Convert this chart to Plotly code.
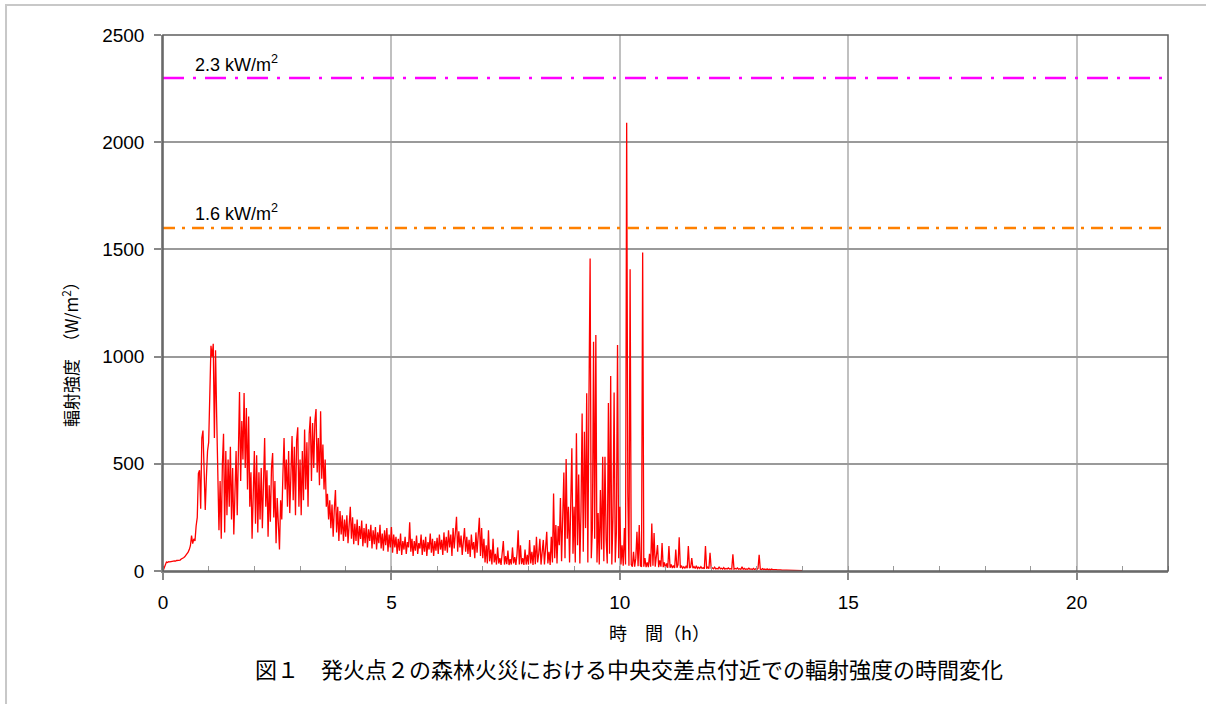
import plotly.graph_objects as go

# ---- data: radiation intensity (W/m2), sampled every 0.025 h, one list per hour ----
h00 = [0, 15, 30, 42, 40, 44, 43, 45, 44, 46, 47, 46, 49, 50, 52, 51, 56, 58, 62, 66,
       72, 78, 88, 100, 118, 165, 128, 150, 140, 210, 250, 455, 470, 290, 620, 655, 430, 285, 440, 560]
h01 = [600, 830, 1050, 1000, 1060, 620, 1030, 720, 480, 190, 420, 150, 500, 640, 180, 560, 260, 520, 300, 580,
       240, 480, 170, 420, 560, 260, 600, 835, 420, 700, 520, 830, 480, 760, 380, 720, 300, 460, 150, 380]
h02 = [560, 220, 540, 180, 460, 240, 480, 200, 440, 620, 300, 470, 160, 400, 230, 480, 550, 250, 420, 130,
       340, 210, 100, 330, 240, 450, 620, 380, 520, 300, 560, 270, 500, 630, 330, 580, 260, 610, 670, 300]
h03 = [520, 260, 560, 330, 660, 380, 600, 300, 640, 720, 420, 690, 480, 700, 755, 460, 620, 400, 745, 430,
       590, 380, 520, 300, 360, 240, 330, 200, 310, 160, 290, 378, 180, 300, 140, 280, 170, 260, 140, 240]
h04 = [160, 260, 130, 230, 300, 150, 250, 125, 220, 140, 240, 120, 210, 150, 235, 115, 200, 130, 220, 110,
       195, 140, 215, 105, 190, 125, 205, 100, 180, 130, 215, 105, 175, 95, 190, 120, 200, 90, 170, 110]
h05 = [205, 85, 170, 110, 160, 80, 150, 95, 175, 75, 140, 100, 160, 80, 135, 110, 227, 90, 150, 70,
       140, 95, 165, 80, 130, 105, 170, 75, 145, 90, 160, 70, 135, 100, 175, 85, 150, 70, 140, 95]
h06 = [155, 80, 170, 100, 145, 75, 180, 95, 160, 85, 190, 110, 170, 70, 200, 105, 175, 253, 90, 185,
       110, 165, 75, 150, 200, 90, 160, 80, 145, 65, 170, 100, 135, 60, 180, 85, 150, 248, 70, 200]
h07 = [60, 150, 40, 120, 35, 190, 45, 100, 30, 150, 40, 80, 30, 110, 35, 60, 28, 90, 140, 30,
       70, 32, 95, 28, 55, 30, 110, 35, 65, 28, 80, 190, 30, 120, 32, 60, 28, 100, 30, 75]
h08 = [30, 145, 35, 90, 28, 120, 32, 160, 40, 80, 150, 30, 100, 145, 30, 130, 183, 35, 90, 28,
       160, 40, 362, 60, 214, 35, 210, 120, 340, 45, 260, 459, 60, 522, 150, 300, 40, 420, 573, 80]
h09 = [300, 40, 643, 120, 450, 35, 280, 735, 90, 650, 200, 829, 40, 816, 1458, 60, 200, 1069, 150, 1101,
       40, 270, 30, 378, 100, 533, 45, 533, 150, 35, 783, 80, 909, 30, 250, 832, 40, 180, 1054, 60]
h10 = [300, 30, 120, 25, 200, 30, 2091, 363, 25, 1407, 30, 20, 90, 20, 60, 183, 22, 214, 25, 20,
       1485, 20, 60, 18, 40, 18, 80, 20, 222, 25, 177, 20, 60, 121, 18, 50, 20, 130, 18, 40]
h11 = [15, 35, 15, 116, 15, 30, 14, 25, 14, 100, 15, 30, 157, 14, 25, 13, 20, 13, 22, 13,
       116, 14, 18, 60, 13, 20, 12, 25, 12, 18, 12, 20, 12, 15, 11, 116, 11, 18, 11, 85]
h12 = [11, 15, 10, 18, 10, 12, 10, 20, 10, 13, 9, 16, 9, 12, 9, 14, 9, 11, 9, 78,
       9, 12, 9, 14, 8, 11, 8, 20, 8, 12, 8, 10, 8, 13, 8, 10, 7, 12, 7, 10]
h13 = [7, 12, 75, 8, 7, 11, 7, 9, 6, 10, 6, 8, 6, 9, 6, 7, 5, 6, 5, 6,
       5, 5, 4, 5, 4, 4, 4, 4, 3, 3, 3, 3, 3, 3, 2, 2, 2, 2, 2, 2]
h14 = [2]

radiation = h00 + h01 + h02 + h03 + h04 + h05 + h06 + h07 + h08 + h09 + h10 + h11 + h12 + h13 + h14
sample_step_h = 0.025
hours = [round(i * sample_step_h, 3) for i in range(len(radiation))]

threshold_23 = 2300   # 2.3 kW/m2 line
threshold_16 = 1600   # 1.6 kW/m2 line
x_range = [0, 22]
y_range = [0, 2500]

fig = go.Figure()

fig.add_trace(go.Scatter(x=hours, y=radiation, mode="lines",
                         line=dict(color="#FF0000", width=1.3), showlegend=False,
                         hoverinfo="x+y"))

fig.add_trace(go.Scatter(x=x_range, y=[threshold_23, threshold_23], mode="lines",
                         line=dict(color="#FF00FF", width=2.5, dash="21px,9px,3px,9px"),
                         showlegend=False))
fig.add_trace(go.Scatter(x=x_range, y=[threshold_16, threshold_16], mode="lines",
                         line=dict(color="#FF8000", width=2.5, dash="12px,7px,3px,7px"),
                         showlegend=False))

tick_font = dict(family="Liberation Sans, Arial, sans-serif", size=19, color="#000000")
cjk = "Noto Sans CJK JP, sans-serif"

fig.update_xaxes(range=x_range, dtick=5, tick0=0, showgrid=True, gridcolor="#C0C0C0", gridwidth=1.5,
                 zeroline=False, showline=True, linecolor="#888888", linewidth=1.5,
                 ticks="outside", ticklen=7, tickcolor="#888888", tickwidth=1.5,
                 tickfont=tick_font, ticklabelstandoff=6,
                 minor=dict(dtick=1, tick0=0, ticks="inside", ticklen=5, tickcolor="#999999",
                            tickwidth=1, showgrid=False))
fig.update_yaxes(range=y_range, dtick=500, tick0=0, showgrid=True, gridcolor="#9A9A9A", gridwidth=1.5,
                 zeroline=False, showline=True, linecolor="#888888", linewidth=1.5,
                 ticks="outside", ticklen=7, tickcolor="#888888", tickwidth=1.5,
                 tickfont=tick_font, ticklabelstandoff=6)

fig.update_layout(
    width=1206, height=704,
    margin=dict(l=163, r=38, t=35, b=133, pad=0),
    paper_bgcolor="#FFFFFF", plot_bgcolor="#FFFFFF",
    shapes=[
        # plot-area frame (top/right darker)
        dict(type="rect", xref="paper", yref="paper", x0=0, x1=1, y0=0, y1=1,
             line=dict(color="#5F5F5F", width=1.5), fillcolor="rgba(0,0,0,0)", layer="above"),
        # page frame
        dict(type="rect", xref="paper", yref="paper", x0=-0.1562, x1=1.05, y0=-0.27, y1=1.056,
             line=dict(color="#C8C8C8", width=2), fillcolor="rgba(0,0,0,0)", layer="below"),
    ],
    annotations=[
        dict(x=0.65, y=2365, xref="x", yref="y", text="2.3 kW/m<sup>2</sup>", showarrow=False,
             xanchor="left", yanchor="middle",
             font=dict(family="Liberation Sans, Arial, sans-serif", size=18, color="#000000")),
        dict(x=0.65, y=1670, xref="x", yref="y", text="1.6 kW/m<sup>2</sup>", showarrow=False,
             xanchor="left", yanchor="middle",
             font=dict(family="Liberation Sans, Arial, sans-serif", size=18, color="#000000")),
        dict(x=0.4945, y=-0.1138, xref="paper", yref="paper", text="時　間（h）", showarrow=False,
             xanchor="center", yanchor="middle", font=dict(family=cjk, size=18, color="#000000")),
        dict(x=-0.0925, y=0.4123, xref="paper", yref="paper", text="輻射強度　（W/m<sup>2</sup>）",
             showarrow=False, textangle=-90, xanchor="center", yanchor="middle",
             font=dict(family=cjk, size=17, color="#000000")),
        dict(x=0.4637, y=-0.181, xref="paper", yref="paper",
             text="図１　発火点２の森林火災における中央交差点付近での輻射強度の時間変化",
             showarrow=False, xanchor="center", yanchor="middle",
             font=dict(family=cjk, size=22, color="#000000")),
    ],
)

fig.write_html("out.html", config={"displayModeBar": False},
               post_script="document.body.style.margin='0';")
